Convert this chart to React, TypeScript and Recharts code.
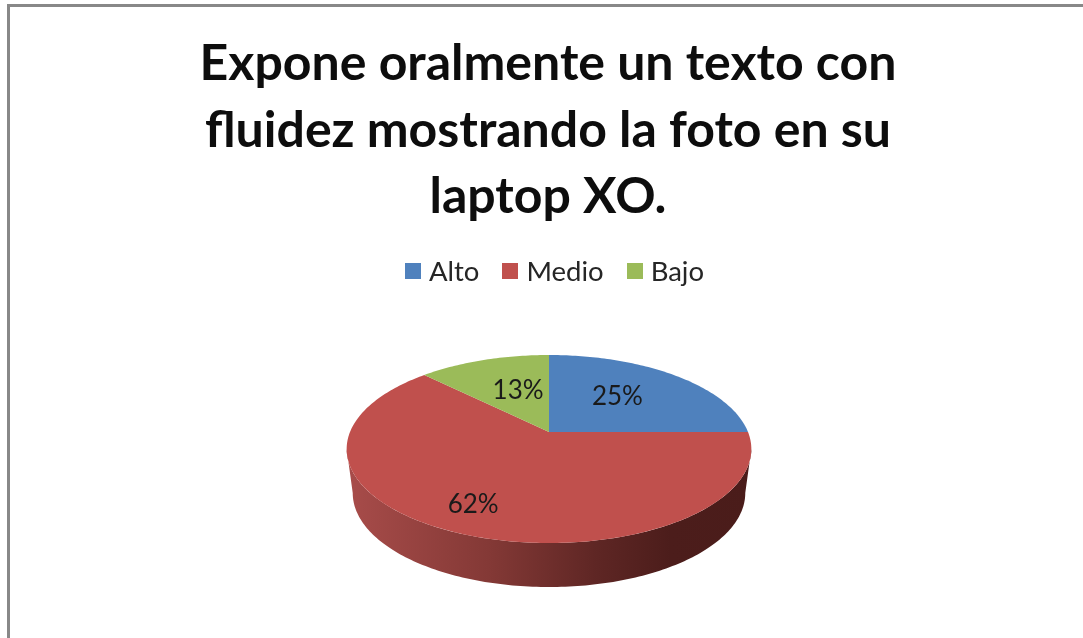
import { PieChart, Pie, Legend } from 'recharts';

const categories = ['Alto', 'Medio', 'Bajo'];
const values = [25, 62.5, 12.5];
const percentLabels = ['25%', '62%', '13%'];
const colors = ['#4f81bd', '#c0504d', '#9bbb59'];
const titleLines = ['Expone oralmente un texto con', 'fluidez mostrando la foto en su', 'laptop XO.'];

const chartData = categories.map((name, i) => ({ name, value: values[i], fill: colors[i] }));

const FONT = 'Lato, "Open Sans", sans-serif';

// perspective of the tilted disc: far side is squashed, near side stretched
const TILT_Y = 0.457;
const PERSPECTIVE = 0.181;
const WALL_DEPTH = 44;
const WALL_TAPER = 0.97;
// the disc's silhouette is widest a little below the apex, the wall starts there
const WALL_FROM = -10.4;
const WALL_TO = -169.6;

function project(cx: number, cy: number, radius: number, angle: number, frac = 1) {
  const rad = (angle * Math.PI) / 180;
  const c = Math.cos(rad) * frac;
  const s = Math.sin(rad) * frac;
  const d = 1 + PERSPECTIVE * s;
  return { x: cx + (c * radius) / d, y: cy - (s * radius * TILT_Y) / d };
}

function arcPoints(cx: number, cy: number, r: number, from: number, to: number) {
  const steps = Math.max(2, Math.ceil(Math.abs(to - from)));
  const pts = [];
  for (let i = 0; i <= steps; i++) {
    pts.push(project(cx, cy, r, from + ((to - from) * i) / steps));
  }
  return pts;
}

const toPath = (pts: { x: number; y: number }[]) =>
  pts.map((p, i) => `${i === 0 ? 'M' : 'L'}${p.x.toFixed(2)},${p.y.toFixed(2)}`).join(' ');

// one slice: side wall (only where it faces the viewer) and then the top face
function Slice3D(props: any) {
  const { cx, cy, outerRadius, startAngle, endAngle, fill } = props;
  const topFace = arcPoints(cx, cy, outerRadius, startAngle, endAngle);
  const from = Math.min(startAngle, WALL_FROM);
  const to = Math.max(endAngle, WALL_TO);
  let wall = null;
  if (from > to) {
    const upper = arcPoints(cx, cy, outerRadius, from, to);
    const lower = upper
      .map(p => ({ x: cx + (p.x - cx) * WALL_TAPER, y: p.y + WALL_DEPTH }))
      .reverse();
    wall = (
      <>
        <defs>
          <linearGradient id="wallShade" x1="0" y1="0" x2="1" y2="0">
            <stop offset="0%" stopColor="#a84c4a" />
            <stop offset="35%" stopColor="#843936" />
            <stop offset="62%" stopColor="#5e2624" />
            <stop offset="80%" stopColor="#4c1d1b" />
            <stop offset="100%" stopColor="#4a1c1a" />
          </linearGradient>
        </defs>
        <path d={`${toPath(upper)} ${toPath(lower).replace('M', 'L')} Z`} fill="url(#wallShade)" />
      </>
    );
  }
  return (
    <g>
      {wall}
      <path d={`M${cx},${cy} ${toPath(topFace).replace('M', 'L')} Z`} fill={fill} />
    </g>
  );
}

// nudges for the labels, the way the spreadsheet placed them
const labelNudges = [
  { dx: -10, dy: -1 },
  { dx: -25, dy: 15 },
  { dx: 10.6, dy: 2.8 },
];

function SliceLabel(props: any) {
  const { cx, cy, outerRadius, midAngle, index } = props;
  const p = project(cx, cy, outerRadius, midAngle, 0.6);
  return (
    <text
      x={p.x + labelNudges[index].dx}
      y={p.y + labelNudges[index].dy}
      textAnchor="middle"
      dominantBaseline="central"
      fontFamily={FONT}
      fontSize={26}
      fill="#1a1a1a"
    >
      {percentLabels[index]}
    </text>
  );
}

function LegendRow({ payload }: any) {
  return (
    <div style={{ display: 'flex', alignItems: 'center', justifyContent: 'center', fontFamily: FONT, fontSize: 27.5, color: '#262626' }}>
      {(payload || []).map((entry: any, i: number) => (
        <div key={entry.value} style={{ display: 'flex', alignItems: 'center', marginLeft: i === 0 ? 0 : 23 }}>
          <span style={{ width: 16, height: 16, background: entry.color, marginRight: 8, display: 'inline-block' }} />
          <span>{entry.value}</span>
        </div>
      ))}
    </div>
  );
}

export default function App() {
  return (
    <div style={{ position: 'absolute', left: 0, top: 0, width: 1083, height: 638, overflow: 'hidden', background: '#fff', filter: 'blur(0.5px)' }}>
      {/* chart frame, only top and left edges are in the crop */}
      <div style={{ position: 'absolute', left: 7, top: 4, right: -10, bottom: -10, borderLeft: '3px solid #888', borderTop: '3px solid #888' }} />
      <div style={{ position: 'absolute', left: 0, top: 28, width: 1096, textAlign: 'center', fontFamily: FONT, fontWeight: 700, fontSize: 50, lineHeight: '66.5px', color: '#0d0d0d' }}>
        {titleLines.map(line => (
          <div key={line}>{line}</div>
        ))}
      </div>
      <div style={{ position: 'absolute', left: 0, top: 0 }}>
        <PieChart width={1083} height={638} margin={{ top: 0, right: 0, bottom: 0, left: 0 }}>
          <Pie
            data={chartData}
            dataKey="value"
            nameKey="name"
            cx={549}
            cy={432}
            outerRadius={199}
            startAngle={90}
            endAngle={-270}
            shape={Slice3D}
            stroke="none"
            label={SliceLabel}
            labelLine={false}
            isAnimationActive={false}
          />
          <Legend
            content={LegendRow}
            itemSorter={null}
            wrapperStyle={{ position: 'absolute', top: 254, left: 0, width: 1109, height: 34 }}
          />
        </PieChart>
      </div>
    </div>
  );
}
